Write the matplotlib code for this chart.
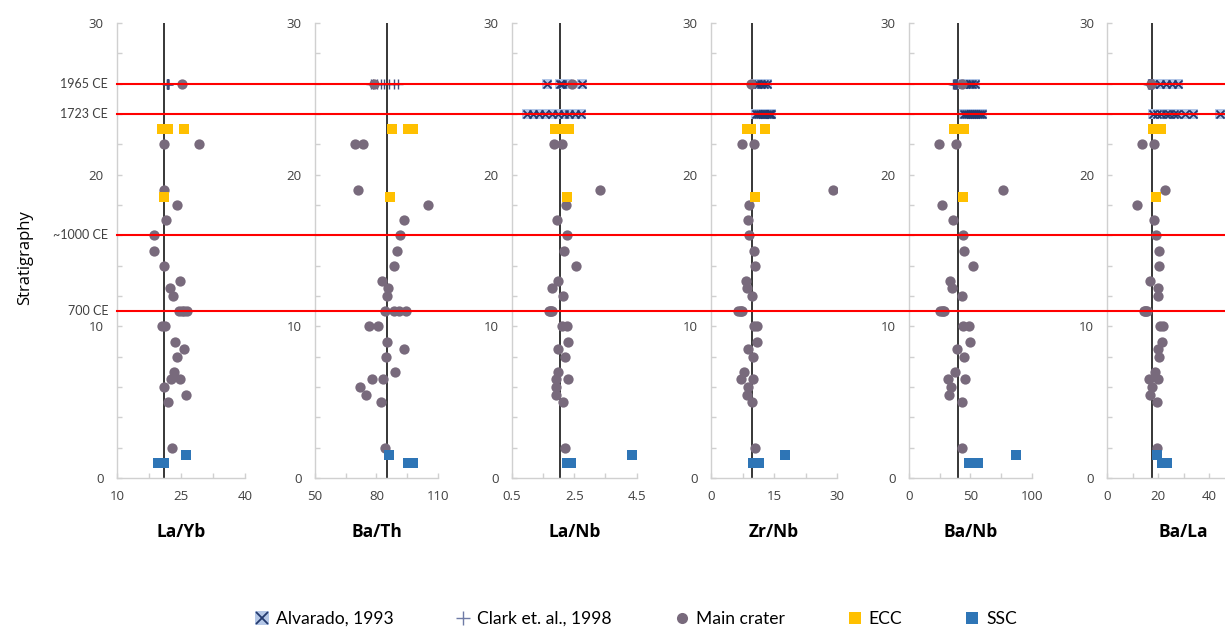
import matplotlib
matplotlib.use("Agg")
import matplotlib.pyplot as plt
from matplotlib.lines import Line2D
from matplotlib.legend_handler import HandlerTuple
import numpy as np

plt.rcParams['font.family'] = ['Open Sans', 'DejaVu Sans']

# ---------------- data ----------------
ratio_names = ["La/Yb", "Ba/Th", "La/Nb", "Zr/Nb", "Ba/Nb", "Ba/La"]
ref_values = [21.0, 85.0, 2.05, 9.8, 40.0, 17.7]

era_labels = ["1965 CE", "1723 CE", "~1000 CE", "700 CE"]
era_depths = [26, 24, 16, 11]

depth_main = [26, 22, 22, 19, 18, 17, 16, 15, 14, 13, 12.5, 12, 11, 11, 11, 11,
              10, 10, 9, 8.5, 8, 7, 6.5, 6.5, 6, 5.5, 5, 2]
layb_main = [25.2, 21.1, 29.2, 20.9, 24.1, 21.6, 18.6, 18.6, 20.9, 24.8, 22.5, 23.05,
             24.6, 25.2, 25.8, 26.4, 20.6, 21.2, 23.6, 25.6, 24.1, 23.4, 22.7, 24.8,
             21.0, 26.2, 22.0, 22.8]
bath_main = [78.9, 69.5, 73.3, 70.8, 105.1, 93.3, 91.5, 90.0, 88.4, 82.5, 85.8, 85.1,
             84.1, 88.5, 91.1, 94.4, 76.3, 80.6, 85.1, 93.3, 84.5, 89.2, 78.0, 83.3,
             72.1, 74.7, 82.2, 84.1]
lanb_main = [2.42, 1.86, 2.10, 3.32, 2.24, 1.96, 2.26, 2.17, 2.55, 1.97, 1.78, 2.13,
             1.68, 1.72, 1.75, 1.79, 2.12, 2.26, 2.29, 1.97, 2.21, 1.98, 1.92, 2.29,
             1.91, 1.92, 2.15, 2.21]
zrnb_main = [9.5, 7.45, 10.2, 29.1, 9.1, 8.7, 9.1, 10.2, 10.5, 8.25, 8.5, 9.76,
             6.4, 6.8, 7.1, 7.4, 10.3, 10.9, 10.9, 8.8, 10.0, 7.8, 7.2, 10.1,
             8.7, 8.5, 9.7, 10.5]
banb_main = [43.0, 24.7, 38.3, 76.4, 27.2, 36.1, 43.7, 44.6, 51.9, 33.7, 35.3, 43.2,
             25.5, 26.5, 27.5, 28.5, 44.3, 48.6, 49.4, 39.1, 44.8, 37.2, 32.0, 45.6,
             34.5, 32.6, 42.9, 43.5]
bala_main = [17.0, 13.5, 18.4, 22.8, 11.8, 18.4, 19.2, 20.5, 20.3, 16.9, 19.8, 19.9,
             14.6, 15.0, 15.4, 15.8, 20.9, 21.8, 21.5, 19.8, 20.3, 18.9, 16.4, 19.9,
             17.7, 16.8, 19.7, 19.4]

depth_ecc = [23, 23, 23, 18.5]
layb_ecc = [20.6, 22.0, 25.7, 20.9]
bath_ecc = [87.4, 95.5, 98.0, 86.6]
lanb_ecc = [1.89, 2.10, 2.34, 2.26]
zrnb_ecc = [8.5, 9.45, 12.86, 10.4]
banb_ecc = [36.9, 41.0, 45.1, 43.7]
bala_ecc = [18.1, 19.7, 21.0, 19.3]

depth_ssc = [1.5, 1, 1]
layb_ssc = [26.2, 19.5, 21.1]
bath_ssc = [86.3, 95.2, 97.7]
lanb_ssc = [4.34, 2.26, 2.40]
zrnb_ssc = [17.6, 9.9, 11.4]
banb_ssc = [87.2, 49.1, 56.5]
bala_ssc = [19.6, 21.6, 23.4]

depth_alv = [26] * 5 + [24] * 10
lanb_alv = [1.62, 2.03, 2.12, 2.27, 2.74,
            0.98, 1.17, 1.36, 1.55, 1.79, 1.97, 2.16, 2.33, 2.52, 2.72]
zrnb_alv = [10.6, 11.2, 11.9, 12.6, 13.4,
            10.8, 11.2, 11.7, 12.1, 12.6, 12.9, 13.3, 13.7, 14.0, 14.4]
banb_alv = [44.3, 46.8, 49.6, 51.7, 53.8,
            44.8, 46.4, 48.1, 49.7, 51.2, 52.9, 54.6, 56.0, 57.6, 59.2]
bala_alv = [18.1, 20.6, 23.2, 25.4, 27.9,
            18.1, 19.6, 21.2, 22.9, 24.4, 26.1, 27.6, 30.5, 33.8, 44.3]

depth_clark = [26] * 8
layb_clark = [21.8, 21.9, 21.9, 22.0, 21.8, 22.0, 21.9, 21.9]
bath_clark = [77.3, 78.4, 80.4, 82.2, 83.8, 86.2, 88.5, 90.3]
banb_clark = [35.6, 36.4, 37.2, 38.0, 38.9, 36.8, 37.5, 38.4]
bala_clark = [16.0, 16.5, 17.0, 17.5, 18.0, 16.3, 16.8, 17.3]

main_sets = [layb_main, bath_main, lanb_main, zrnb_main, banb_main, bala_main]
ecc_sets = [layb_ecc, bath_ecc, lanb_ecc, zrnb_ecc, banb_ecc, bala_ecc]
ssc_sets = [layb_ssc, bath_ssc, lanb_ssc, zrnb_ssc, banb_ssc, bala_ssc]
alv_sets = [None, None, lanb_alv, zrnb_alv, banb_alv, bala_alv]
clark_sets = [layb_clark, bath_clark, None, None, banb_clark, bala_clark]

x_limits = [(10, 40), (50, 110), (0.5, 4.5), (0, 30), (0, 100), (0, 60)]
x_major = [[10, 25, 40], [50, 80, 110], [0.5, 2.5, 4.5], [0, 15, 30], [0, 50, 100], [0, 20, 40]]
x_minor = [[17.5, 32.5], [65, 95], [1.5, 3.5], [7.5, 22.5], [25, 75], [10, 30, 50, 60]]
x_ticklabels = [["10", "25", "40"], ["50", "80", "110"], ["0.5", "2.5", "4.5"],
                ["0", "15", "30"], ["0", "50", "100"], ["0", "20", "40"]]

# ---------------- layout ----------------
W, H = 1225, 627
fig = plt.figure(figsize=(W / 100, H / 100), dpi=100)
panel_px = [(117, 245), (315, 438), (511.7, 636.7), (711, 837), (909, 1031.7), (1107.3, 1259.8)]
y_top_px, y_bot_px = 23, 478
bottom = 1 - y_bot_px / H
height = (y_bot_px - y_top_px) / H

c_main = '#786a7c'
c_ecc = '#ffc000'
c_ssc = '#2e75b6'
c_alv_fill = '#b4c7e7'
c_alv_edge = '#233a6e'
c_clark = '#3f4b78'
spine_c = '#d0d0d0'
txt_c = '#404040'

axes = []
for i in range(6):
    x0, x1 = panel_px[i]
    ax = fig.add_axes([x0 / W, bottom, (x1 - x0) / W, height])
    axes.append(ax)
    ax.set_xlim(*x_limits[i])
    ax.set_ylim(0, 30)
    for s in ['top', 'right']:
        ax.spines[s].set_visible(False)
    for s in ['left', 'bottom']:
        ax.spines[s].set_color(spine_c)
        ax.spines[s].set_linewidth(1.0)
    ax.set_yticks([0, 10, 20, 30])
    ax.set_yticks(np.arange(0, 31, 2), minor=True)
    ax.set_xticks(x_major[i])
    ax.set_xticklabels(x_ticklabels[i])
    ax.set_xticks(x_minor[i], minor=True)
    ax.tick_params(axis='both', which='both', direction='in', length=3.5,
                   color=spine_c, width=1.0, labelsize=9.5, labelcolor=txt_c)
    ax.tick_params(axis='y', which='both', pad=9.5)
    ax.tick_params(axis='x', which='both', pad=9)
    ax.patch.set_alpha(0)

    # reference line
    ax.axvline(ref_values[i], color='black', lw=1.1, zorder=1)

    if alv_sets[i] is not None:
        ax.scatter(alv_sets[i], depth_alv, marker='s', s=46, color=c_alv_fill,
                   linewidths=0, zorder=3, clip_on=False)
        ax.scatter(alv_sets[i], depth_alv, marker='x', s=34, color=c_alv_edge,
                   linewidths=1.3, zorder=3.1, clip_on=False)
    if clark_sets[i] is not None:
        ax.scatter(clark_sets[i], depth_clark, marker='+', s=55, color=c_clark,
                   linewidths=1.0, zorder=3.2)
    ax.scatter(main_sets[i], depth_main, marker='o', s=55, color=c_main,
               linewidths=0, zorder=4)
    ax.scatter(ecc_sets[i], depth_ecc, marker='s', s=52, color=c_ecc,
               linewidths=0, zorder=5)
    ax.scatter(ssc_sets[i], depth_ssc, marker='s', s=52, color=c_ssc,
               linewidths=0, zorder=5)

    ax.text(0.5, (y_bot_px - 532) / (y_bot_px - y_top_px), ratio_names[i],
            transform=ax.transAxes, ha='center', va='center',
            fontsize=12.5, fontweight='bold', color='black')

# red era lines across the figure
for d, lab in zip(era_depths, era_labels):
    yf = bottom + d / 30 * height
    fig.add_artist(Line2D([117 / W, 1.0], [yf, yf], transform=fig.transFigure,
                          color='#ff0000', lw=1.5, zorder=10))
    fig.text(108 / W, yf, lab, ha='right', va='center', fontsize=9,
             color=txt_c, family=['Lato', 'DejaVu Sans'])

fig.text(25 / W, 1 - 258 / H, "Stratigraphy", rotation=90, ha='center', va='center',
         fontsize=12, color='black')

# legend
h_alv = (Line2D([], [], marker='s', ls='', ms=10, color=c_alv_fill, mew=0),
         Line2D([], [], marker='x', ls='', ms=8, color=c_alv_edge, mew=1.3))
h_clark = Line2D([], [], marker='+', ls='', ms=10, color='#6f7ba6', mew=1.0)
h_main = Line2D([], [], marker='o', ls='', ms=8, color=c_main, mew=0)
h_ecc = Line2D([], [], marker='s', ls='', ms=8, color=c_ecc, mew=0)
h_ssc = Line2D([], [], marker='s', ls='', ms=8, color=c_ssc, mew=0)
leg = fig.legend([h_alv, h_clark, h_main, h_ecc, h_ssc],
                 ["Alvarado, 1993", "Clark et. al., 1998", "Main crater", "ECC", "SSC"],
                 handler_map={tuple: HandlerTuple(ndivide=1, pad=0)},
                 loc='center', bbox_to_anchor=(635 / W, 1 - 619 / H), ncol=5,
                 frameon=False, handlelength=1.0, handletextpad=0.3,
                 columnspacing=3.5, borderaxespad=0,
                 prop={'family': ['Lato', 'DejaVu Sans'], 'size': 12.6})
for t in leg.get_texts():
    t.set_color('black')

fig.savefig("out.png", dpi=100)
